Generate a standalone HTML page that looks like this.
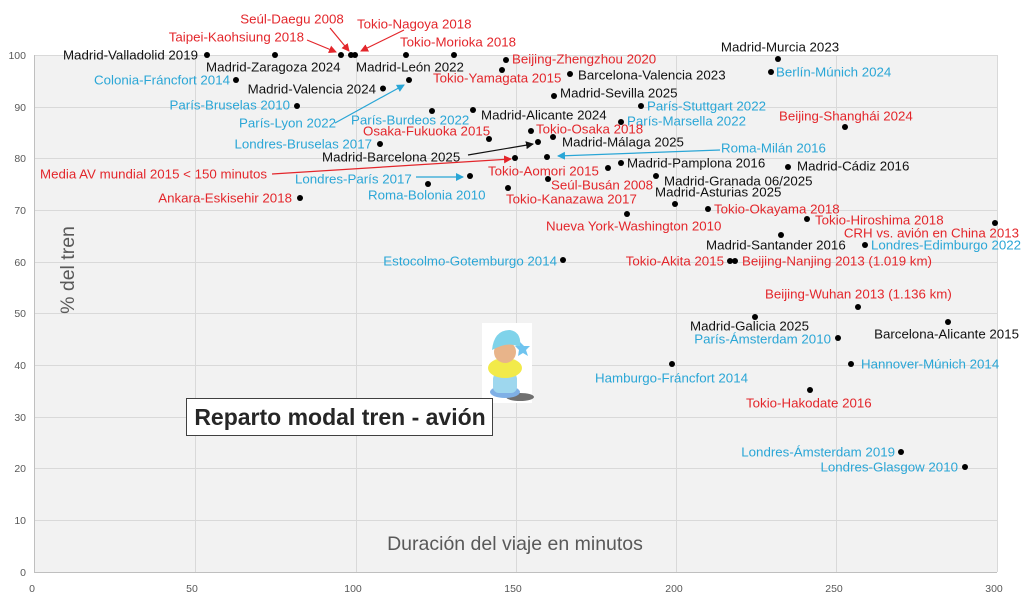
<!DOCTYPE html>
<html><head><meta charset="utf-8"><style>
html,body{margin:0;padding:0;background:#fff;}
svg{display:block;font-family:"Liberation Sans",sans-serif;}
.k{fill:#111;font-size:13.3px;}
.r{fill:#e3262b;font-size:13.3px;}
.b{fill:#2aa6d6;font-size:13.3px;}
.t{fill:#595959;font-size:10.5px;}
</style></head><body>
<svg width="1024" height="601" viewBox="0 0 1024 601" xmlns="http://www.w3.org/2000/svg">
<defs>
<marker id="ar" markerWidth="8" markerHeight="8" refX="7" refY="4" orient="auto" markerUnits="userSpaceOnUse"><path d="M0,0 L8,4 L0,8z" fill="#e3262b"/></marker>
<marker id="ab" markerWidth="8" markerHeight="8" refX="7" refY="4" orient="auto" markerUnits="userSpaceOnUse"><path d="M0,0 L8,4 L0,8z" fill="#2aa6d6"/></marker>
<marker id="ak" markerWidth="8" markerHeight="8" refX="7" refY="4" orient="auto" markerUnits="userSpaceOnUse"><path d="M0,0 L8,4 L0,8z" fill="#111"/></marker>
</defs>
<rect x="34" y="55" width="963" height="517" fill="#f2f2f2"/>
<g stroke="#d9d9d9" stroke-width="1">
<line x1="34" y1="55.5" x2="997" y2="55.5"/><line x1="34" y1="107.5" x2="997" y2="107.5"/><line x1="34" y1="158.5" x2="997" y2="158.5"/><line x1="34" y1="210.5" x2="997" y2="210.5"/><line x1="34" y1="262.5" x2="997" y2="262.5"/><line x1="34" y1="313.5" x2="997" y2="313.5"/><line x1="34" y1="365.5" x2="997" y2="365.5"/><line x1="34" y1="417.5" x2="997" y2="417.5"/><line x1="34" y1="468.5" x2="997" y2="468.5"/><line x1="34" y1="520.5" x2="997" y2="520.5"/>
<line x1="195.5" y1="55" x2="195.5" y2="572"/><line x1="356.5" y1="55" x2="356.5" y2="572"/><line x1="516.5" y1="55" x2="516.5" y2="572"/><line x1="676.5" y1="55" x2="676.5" y2="572"/><line x1="836.5" y1="55" x2="836.5" y2="572"/><line x1="997.5" y1="55" x2="997.5" y2="572"/>
</g>
<g stroke="#bfbfbf"><line x1="34.5" y1="55" x2="34.5" y2="572"/><line x1="34" y1="572.5" x2="997" y2="572.5"/></g>
<g class="t" text-anchor="end">
<text x="26" y="59">100</text><text x="26" y="111">90</text><text x="26" y="162">80</text><text x="26" y="214">70</text><text x="26" y="266">60</text><text x="26" y="317">50</text><text x="26" y="369">40</text><text x="26" y="421">30</text><text x="26" y="472">20</text><text x="26" y="524">10</text><text x="26" y="576">0</text>
</g>
<g class="t" text-anchor="middle">
<text x="32" y="592">0</text><text x="192" y="592">50</text><text x="353" y="592">100</text><text x="513" y="592">150</text><text x="674" y="592">200</text><text x="834" y="592">250</text><text x="994" y="592">300</text>
</g>
<text x="515" y="550" text-anchor="middle" fill="#595959" font-size="19.5">Duración del viaje en minutos</text>
<text transform="translate(74,270) rotate(-90)" text-anchor="middle" fill="#595959" font-size="19.5">% del tren</text>

<g fill="none" stroke-width="1.2">
<line x1="307" y1="40" x2="336" y2="52" stroke="#e3262b" marker-end="url(#ar)"/>
<line x1="330" y1="28" x2="349" y2="51" stroke="#e3262b" marker-end="url(#ar)"/>
<line x1="404" y1="30" x2="361" y2="51" stroke="#e3262b" marker-end="url(#ar)"/>
<line x1="335" y1="123" x2="404" y2="85" stroke="#2aa6d6" marker-end="url(#ab)"/>
<line x1="468" y1="155" x2="533" y2="144" stroke="#111" marker-end="url(#ak)"/>
<line x1="272" y1="174" x2="511" y2="159" stroke="#e3262b" marker-end="url(#ar)"/>
<line x1="416" y1="177" x2="463" y2="177" stroke="#2aa6d6" marker-end="url(#ab)"/>
<line x1="720" y1="150" x2="558" y2="156" stroke="#2aa6d6" marker-end="url(#ab)"/>
</g>

<g fill="#000">
<circle cx="207" cy="55" r="3"/><circle cx="275" cy="55" r="3"/><circle cx="341" cy="55" r="3"/><circle cx="351" cy="55" r="3"/><circle cx="355" cy="55" r="3"/><circle cx="406" cy="55" r="3"/><circle cx="454" cy="55" r="3"/>
<circle cx="236" cy="80" r="3"/><circle cx="383" cy="88.5" r="3"/><circle cx="409" cy="80" r="3"/><circle cx="297" cy="106" r="3"/><circle cx="432" cy="111" r="3"/><circle cx="473" cy="110" r="3"/><circle cx="489" cy="139" r="3"/><circle cx="380" cy="144" r="3"/><circle cx="538" cy="142" r="3"/><circle cx="515" cy="158" r="3"/><circle cx="470" cy="176" r="3"/><circle cx="428" cy="184" r="3"/><circle cx="300" cy="198" r="3"/><circle cx="508" cy="188" r="3"/>
<circle cx="778" cy="59" r="3"/><circle cx="771" cy="72" r="3"/><circle cx="506" cy="60" r="3"/><circle cx="502" cy="70" r="3"/><circle cx="570" cy="74" r="3"/><circle cx="554" cy="96" r="3"/><circle cx="641" cy="106" r="3"/><circle cx="621" cy="122" r="3"/><circle cx="845" cy="127" r="3"/><circle cx="531" cy="131" r="3"/><circle cx="553" cy="137" r="3"/><circle cx="547" cy="157" r="3"/><circle cx="608" cy="168" r="3"/><circle cx="621" cy="163" r="3"/><circle cx="788" cy="167" r="3"/><circle cx="548" cy="179" r="3"/><circle cx="656" cy="176" r="3"/><circle cx="675" cy="204" r="3"/><circle cx="708" cy="209" r="3"/><circle cx="627" cy="214" r="3"/><circle cx="807" cy="219" r="3"/><circle cx="995" cy="223" r="3"/><circle cx="781" cy="235" r="3"/><circle cx="865" cy="245" r="3"/><circle cx="563" cy="260" r="3"/><circle cx="730" cy="261" r="3"/><circle cx="735" cy="261" r="3"/><circle cx="858" cy="307" r="3"/><circle cx="755" cy="317" r="3"/><circle cx="948" cy="322" r="3"/><circle cx="838" cy="338" r="3"/><circle cx="851" cy="364" r="3"/><circle cx="672" cy="364" r="3"/><circle cx="810" cy="390" r="3"/><circle cx="901" cy="452" r="3"/><circle cx="965" cy="467" r="3"/>
</g>

<g dominant-baseline="central">
<text class="k" x="198" y="55" text-anchor="end">Madrid-Valladolid 2019</text>
<text class="k" x="206" y="67">Madrid-Zaragoza 2024</text>
<text class="r" x="304" y="37" text-anchor="end">Taipei-Kaohsiung 2018</text>
<text class="r" x="292" y="19" text-anchor="middle">Seúl-Daegu 2008</text>
<text class="r" x="357" y="24">Tokio-Nagoya 2018</text>
<text class="k" x="356" y="67">Madrid-León 2022</text>
<text class="r" x="400" y="42">Tokio-Morioka 2018</text>
<text class="b" x="230" y="80" text-anchor="end">Colonia-Fráncfort 2014</text>
<text class="k" x="376" y="89" text-anchor="end">Madrid-Valencia 2024</text>
<text class="b" x="239" y="123">París-Lyon 2022</text>
<text class="b" x="290" y="105" text-anchor="end">París-Bruselas 2010</text>
<text class="b" x="351" y="120">París-Burdeos 2022</text>
<text class="k" x="481" y="115">Madrid-Alicante 2024</text>
<text class="r" x="363" y="131">Osaka-Fukuoka 2015</text>
<text class="b" x="372" y="144" text-anchor="end">Londres-Bruselas 2017</text>
<text class="k" x="322" y="157">Madrid-Barcelona 2025</text>
<text class="r" x="40" y="174">Media AV mundial 2015 &lt; 150 minutos</text>
<text class="b" x="295" y="179">Londres-París 2017</text>
<text class="b" x="368" y="195">Roma-Bolonia 2010</text>
<text class="r" x="292" y="198" text-anchor="end">Ankara-Eskisehir 2018</text>
<text class="r" x="506" y="199">Tokio-Kanazawa 2017</text>
<text class="k" x="780" y="47" text-anchor="middle">Madrid-Murcia 2023</text>
<text class="b" x="776" y="72">Berlín-Múnich 2024</text>
<text class="r" x="512" y="59">Beijing-Zhengzhou 2020</text>
<text class="r" x="433" y="78">Tokio-Yamagata 2015</text>
<text class="k" x="578" y="75">Barcelona-Valencia 2023</text>
<text class="k" x="560" y="93">Madrid-Sevilla 2025</text>
<text class="b" x="647" y="106">París-Stuttgart 2022</text>
<text class="b" x="627" y="121">París-Marsella 2022</text>
<text class="r" x="779" y="116">Beijing-Shanghái 2024</text>
<text class="r" x="536" y="129">Tokio-Osaka 2018</text>
<text class="k" x="562" y="142">Madrid-Málaga 2025</text>
<text class="b" x="721" y="148">Roma-Milán 2016</text>
<text class="r" x="488" y="171">Tokio-Aomori 2015</text>
<text class="k" x="627" y="163">Madrid-Pamplona 2016</text>
<text class="k" x="797" y="166">Madrid-Cádiz 2016</text>
<text class="r" x="551" y="185">Seúl-Busán 2008</text>
<text class="k" x="664" y="181">Madrid-Granada 06/2025</text>
<text class="k" x="655" y="192">Madrid-Asturias 2025</text>
<text class="r" x="714" y="209">Tokio-Okayama 2018</text>
<text class="r" x="546" y="226">Nueva York-Washington 2010</text>
<text class="r" x="815" y="220">Tokio-Hiroshima 2018</text>
<text class="r" x="1019" y="233" text-anchor="end">CRH vs. avión en China 2013</text>
<text class="k" x="706" y="245">Madrid-Santander 2016</text>
<text class="b" x="871" y="245">Londres-Edimburgo 2022</text>
<text class="b" x="557" y="261" text-anchor="end">Estocolmo-Gotemburgo 2014</text>
<text class="r" x="724" y="261" text-anchor="end">Tokio-Akita 2015</text>
<text class="r" x="742" y="261">Beijing-Nanjing 2013 (1.019 km)</text>
<text class="r" x="765" y="294">Beijing-Wuhan 2013 (1.136 km)</text>
<text class="k" x="690" y="326">Madrid-Galicia 2025</text>
<text class="k" x="1019" y="334" text-anchor="end">Barcelona-Alicante 2015</text>
<text class="b" x="831" y="339" text-anchor="end">París-Ámsterdam 2010</text>
<text class="b" x="861" y="364">Hannover-Múnich 2014</text>
<text class="b" x="595" y="378">Hamburgo-Fráncfort 2014</text>
<text class="r" x="746" y="403">Tokio-Hakodate 2016</text>
<text class="b" x="895" y="452" text-anchor="end">Londres-Ámsterdam 2019</text>
<text class="b" x="958" y="467" text-anchor="end">Londres-Glasgow 2010</text>
</g>

<rect x="482" y="323" width="50" height="80" fill="#fff"/>
<ellipse cx="520" cy="397" rx="14" ry="4" fill="#333" opacity="0.7"/>
<ellipse cx="505" cy="392" rx="15" ry="6" fill="#7fb0e6"/>
<rect x="493" y="373" width="24" height="20" rx="6" fill="#9ed7ee"/>
<ellipse cx="505" cy="368" rx="17" ry="10" fill="#f2ea4a"/>
<circle cx="505" cy="352" r="11" fill="#e8b48a"/>
<path d="M492,350 Q494,330 510,330 Q522,332 520,348 Q510,340 492,350z" fill="#7fd3ea"/>
<path d="M520,342 l4,4 6,0 -4,4 2,6 -5,-3 -5,3 1,-6 -4,-4 5,0z" fill="#6fc4ef"/>

<rect x="186.5" y="398.5" width="306" height="37" fill="#fff" stroke="#404040" stroke-width="1"/>
<text x="340" y="425" text-anchor="middle" font-size="23" font-weight="bold" fill="#262626">Reparto modal tren - avión</text>
</svg>
</body></html>
